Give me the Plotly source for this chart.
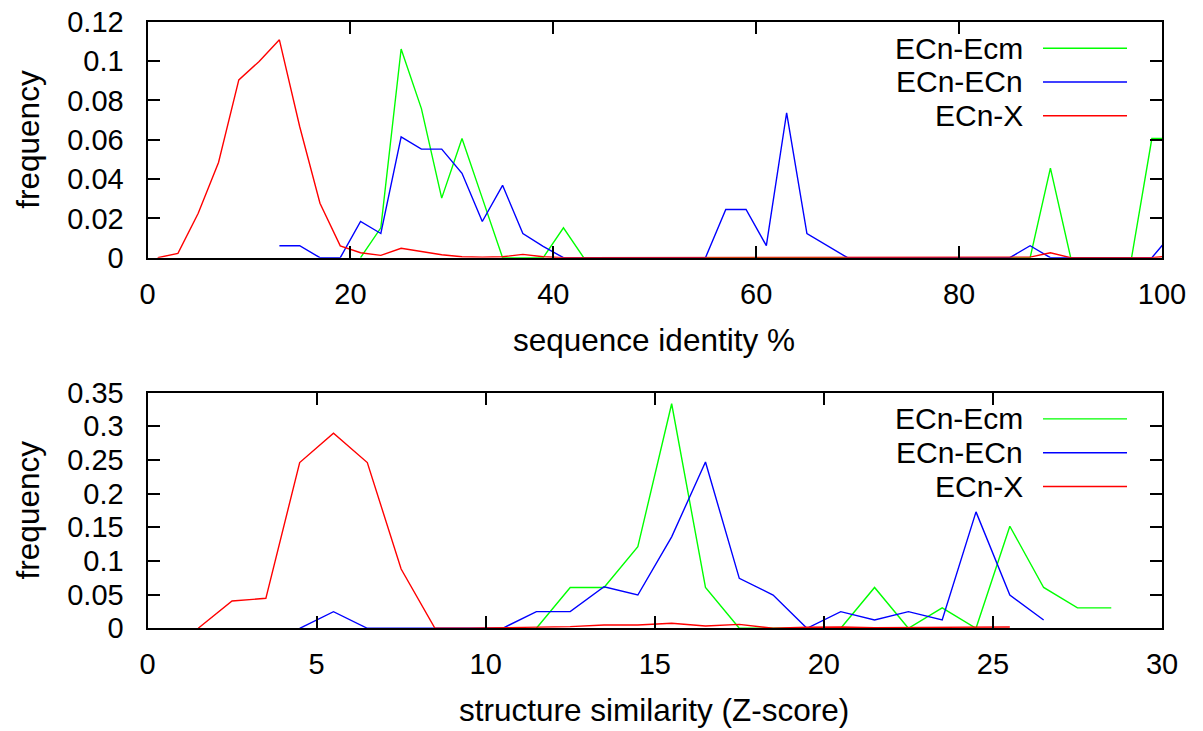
import plotly.graph_objects as go
from plotly.subplots import make_subplots

# ---- sequence identity histogram (top panel) ----
seq_ecm_x = [21, 23, 25, 27, 29, 31, 33, 35, 37, 39, 41, 43, 45, 47, 49, 51, 53, 55, 57, 59, 61,
             63, 65, 67, 69, 71, 73, 75, 77, 79, 81, 83, 85, 87, 89, 91, 93, 95, 97, 99, 101]
seq_ecm_y = [0, 0.0152, 0.1061, 0.0758, 0.0303, 0.0606, 0.0303, 0, 0, 0, 0.0152, 0, 0, 0, 0, 0, 0, 0, 0, 0, 0,
             0, 0, 0, 0, 0, 0, 0, 0, 0, 0, 0, 0, 0, 0.0455, 0, 0, 0, 0, 0.0606, 0.0606]

seq_ecn_x = [13, 15, 17, 19, 21, 23, 25, 27, 29, 31, 33, 35, 37, 39, 41, 43, 45, 47, 49, 51, 53, 55, 57,
             59, 61, 63, 65, 67, 69, 71, 73, 75, 77, 79, 81, 83, 85, 87, 89, 91, 93, 95, 97, 99, 101]
seq_ecn_y = [0.0061, 0.0061, 0, 0, 0.0184, 0.0123, 0.0614, 0.0552, 0.0552, 0.0429, 0.0184, 0.0368, 0.0123,
             0.0058, 0, 0, 0, 0, 0, 0, 0, 0, 0.0245, 0.0245, 0.0061, 0.0737, 0.0123, 0.0061, 0, 0, 0, 0, 0,
             0, 0, 0, 0, 0.0061, 0, 0, 0, 0, 0, 0, 0.0123]

seq_x_x = [1, 3, 5, 7, 9, 11, 13, 15, 17, 19, 21, 23, 25, 27, 29, 31, 33, 35, 37, 39, 41, 43, 45, 47, 49,
           51, 53, 55, 57, 59, 61, 63, 65, 67, 69, 71, 73, 75, 77, 79, 81, 83, 85, 87, 89, 91, 93, 95, 97,
           99, 101]
seq_x_y = [0, 0.0022, 0.0226, 0.0484, 0.0904, 0.0998, 0.1108, 0.0667, 0.0277, 0.006, 0.0025, 0.0012,
           0.0048, 0.003, 0.0015, 0.0005, 0.0003, 0.0005, 0.0017, 0.0005, 0, 0, 0, 0, 0,
           0, 0, 0, 0, 0, 0, 0, 0, 0, 0, 0, 0, 0, 0, 0, 0, 0, 0, 0.0003, 0.0025, 0, 0, 0, 0,
           0, 0.001]

# ---- structure similarity histogram (bottom panel) ----
z_ecm_x = [11.5, 12.5, 13.5, 14.5, 15.5, 16.5, 17.5, 18.5, 19.5, 20.5, 21.5, 22.5, 23.5, 24.5, 25.5,
           26.5, 27.5, 28.5]
z_ecm_y = [0, 0.0606, 0.0606, 0.1212, 0.3333, 0.0606, 0, 0, 0, 0, 0.0606, 0, 0.0303, 0, 0.1515,
           0.0606, 0.0303, 0.0303]

z_ecn_x = [4.5, 5.5, 6.5, 7.5, 8.5, 9.5, 10.5, 11.5, 12.5, 13.5, 14.5, 15.5, 16.5, 17.5, 18.5, 19.5,
           20.5, 21.5, 22.5, 23.5, 24.5, 25.5, 26.5]
z_ecn_y = [0, 0.0247, 0, 0, 0, 0, 0, 0.0247, 0.0247, 0.0617, 0.0494, 0.1358, 0.2469, 0.0741, 0.0494, 0,
           0.0247, 0.0123, 0.0247, 0.0123, 0.1728, 0.0494, 0.0123]

z_x_x = [1.5, 2.5, 3.5, 4.5, 5.5, 6.5, 7.5, 8.5, 9.5, 10.5, 11.5, 12.5, 13.5, 14.5, 15.5, 16.5, 17.5,
         18.5, 19.5, 20.5, 21.5, 22.5, 23.5, 24.5, 25.5]
z_x_y = [0, 0.0405, 0.0445, 0.246, 0.2896, 0.246, 0.088, 0, 0, 0.001, 0.001, 0.0025, 0.005, 0.005,
         0.0074, 0.0035, 0.0059, 0, 0.0015, 0.002, 0.001, 0.001, 0.001, 0.001, 0.002]

series_names = ["ECn-Ecm", "ECn-ECn", "ECn-X"]
series_colors = ["#00ff00", "#0000ff", "#ff0000"]

W, H = 1203, 731
FONT = "Liberation Sans"


def px(x):
    return x / W


def py(y):
    return 1 - y / H


fig = make_subplots(rows=2, cols=1)

top = [(seq_ecm_x, seq_ecm_y), (seq_ecn_x, seq_ecn_y), (seq_x_x, seq_x_y)]
bottom = [(z_ecm_x, z_ecm_y), (z_ecn_x, z_ecn_y), (z_x_x, z_x_y)]

for row, data in ((1, top), (2, bottom)):
    for (xs, ys), name, color in zip(data, series_names, series_colors):
        fig.add_trace(go.Scatter(x=xs, y=ys, mode="lines", name=name,
                                 line=dict(color=color, width=1.4), showlegend=False),
                      row=row, col=1)

axis_common = dict(showgrid=False, zeroline=False, showline=True, linecolor="black", linewidth=2,
                   mirror="ticks", ticks="inside", ticklen=12, tickwidth=2, tickcolor="black",
                   layer="above traces", automargin=False,
                   tickfont=dict(family=FONT, size=29, color="black"))

x_dom = [px(147.5), px(1162)]
fig.update_layout(
    xaxis=dict(domain=x_dom, range=[0, 100], dtick=20, anchor="y", ticklabelstandoff=9, **axis_common),
    yaxis=dict(domain=[py(257.7), py(21.7)], range=[0, 0.12], dtick=0.02, anchor="x",
               ticklabelstandoff=16, **axis_common),
    xaxis2=dict(domain=x_dom, range=[0, 30], dtick=5, anchor="y2", ticklabelstandoff=9, **axis_common),
    yaxis2=dict(domain=[py(628.3), py(392.5)], range=[0, 0.35], dtick=0.05, anchor="x2",
                ticklabelstandoff=16, **axis_common),
)

annotations = []
shapes = []
title_font = dict(family=FONT, size=31.5, color="black")
key_font = dict(family=FONT, size=30, color="black")

# axis titles
for yc in (139.7, 510.4):
    annotations.append(dict(text="frequency", x=px(28), y=py(yc), xref="paper", yref="paper",
                            showarrow=False, textangle=-90, font=title_font,
                            xanchor="center", yanchor="middle"))
annotations.append(dict(text="sequence identity %", x=px(654), y=py(340), xref="paper", yref="paper",
                        showarrow=False, font=title_font, xanchor="center", yanchor="middle"))
annotations.append(dict(text="structure similarity (Z-score)", x=px(654), y=py(710), xref="paper",
                        yref="paper", showarrow=False, font=title_font, xanchor="center", yanchor="middle"))

# key boxes: label right-aligned, sample line to the right
for rows in ((48.2, 82.0, 115.8), (418.9, 452.7, 486.5)):
    for yk, name, color in zip(rows, series_names, series_colors):
        annotations.append(dict(text=name, x=px(1024), y=py(yk), xref="paper", yref="paper",
                                showarrow=False, font=key_font, xanchor="right", yanchor="middle",
                                borderpad=0))
        shapes.append(dict(type="line", xref="paper", yref="paper", x0=px(1043), x1=px(1127),
                           y0=py(yk), y1=py(yk), line=dict(color=color, width=1.4)))

fig.update_layout(
    width=W, height=H, margin=dict(l=0, r=0, t=0, b=0),
    paper_bgcolor="white", plot_bgcolor="white",
    annotations=annotations, shapes=shapes, showlegend=False,
    font=dict(family=FONT, color="black"),
)

fig.write_html("out.html")
